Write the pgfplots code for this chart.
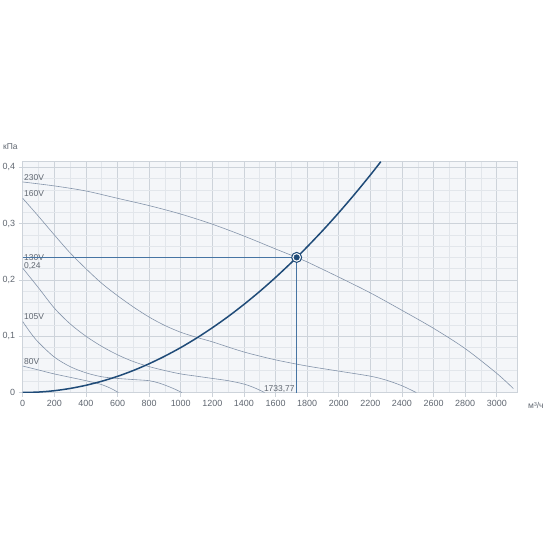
\documentclass[border=0pt]{standalone}
\usepackage{fontspec}
\setmainfont{Liberation Sans}
\usepackage{pgfplots}
\pgfplotsset{compat=1.18}
\definecolor{bgcol}{HTML}{F4F6F9}
\definecolor{gridmin}{HTML}{E2E6EB}
\definecolor{gridmaj}{HTML}{CDD3DA}
\definecolor{curvecol}{HTML}{8494AA}
\definecolor{syscol}{HTML}{1F4B78}
\definecolor{refcol}{HTML}{4674A3}
\definecolor{txtcol}{HTML}{5F6670}
\begin{document}
\begin{tikzpicture}
\path[use as bounding box] (0bp,0bp) rectangle (550bp,-550bp);
\begin{axis}[
  at={(22.7bp,-392.5bp)}, anchor=south west,
  scale only axis, width=494.3bp, height=230.8bp,
  xmin=0, xmax=3128, ymin=0, ymax=0.41,
  xtick={0,200,...,3000}, ytick={0,0.1,0.2,0.3,0.4},
  minor x tick num=1, minor y tick num=4,
  grid=both,
  major grid style={draw=gridmaj, line width=0.6bp},
  minor grid style={draw=gridmin, line width=0.5bp},
  axis background/.style={fill=bgcol},
  axis line style={draw=gridmaj, line width=0.6bp},
  xtick pos=left, ytick pos=left,
  tick align=outside, major tick length=4bp, minor tick length=0pt,
  major tick style={draw=gridmaj, line width=0.6bp},
  ticklabel style={font=\fontsize{9}{10}\selectfont, text=txtcol},
  x tick label style={/pgf/number format/.cd, set thousands separator={}, assume math mode=true},
  y tick label style={/pgf/number format/.cd, use comma, fixed, assume math mode=true},
]
% fan curves
\addplot[curvecol, line width=0.6bp, smooth] coordinates {
(0,0.374) (200,0.367) (400,0.358) (600,0.345) (800,0.332) (1000,0.317) (1200,0.299)
(1400,0.278) (1600,0.255) (1733.77,0.240) (1800,0.232) (2000,0.205) (2200,0.177)
(2400,0.146) (2600,0.114) (2800,0.078) (3000,0.034) (3105,0.007)};
\addplot[curvecol, line width=0.6bp, smooth] coordinates {
(0,0.345) (100,0.313) (200,0.280) (300,0.248) (400,0.220) (500,0.194) (600,0.172)
(700,0.152) (800,0.134) (900,0.119) (1000,0.107) (1100,0.098) (1200,0.090)
(1400,0.072) (1600,0.058) (1800,0.047) (2000,0.038) (2200,0.029) (2300,0.022)
(2400,0.012) (2490,0.0)};
\addplot[curvecol, line width=0.6bp, smooth] coordinates {
(0,0.221) (100,0.186) (200,0.150) (300,0.122) (400,0.100) (500,0.082) (600,0.067)
(700,0.055) (800,0.046) (900,0.039) (1000,0.033) (1100,0.029) (1200,0.025)
(1300,0.021) (1400,0.015) (1470,0.008) (1530,0.0)};
\addplot[curvecol, line width=0.6bp, smooth] coordinates {
(0,0.126) (50,0.106) (100,0.089) (200,0.063) (300,0.046) (400,0.035) (500,0.028)
(600,0.025) (700,0.023) (800,0.021) (860,0.017) (920,0.011) (970,0.005) (1006,0.0)};
\addplot[curvecol, line width=0.6bp, smooth] coordinates {
(0,0.047) (100,0.040) (200,0.033) (300,0.027) (400,0.021) (500,0.014) (560,0.007) (605,0.0)};
% labels
\node[anchor=base west, inner sep=0, font=\fontsize{8.5}{9}\selectfont, text=txtcol] at (axis cs:8,0.377) {230V};
\node[anchor=base west, inner sep=0, font=\fontsize{8.5}{9}\selectfont, text=txtcol] at (axis cs:8,0.348) {160V};
\node[anchor=base west, inner sep=0, font=\fontsize{8.5}{9}\selectfont, text=txtcol] at (axis cs:8,0.2345) {130V};
\node[anchor=base west, inner sep=0, font=\fontsize{8.5}{9}\selectfont, text=txtcol] at (axis cs:8,0.220) {0,24};
\node[anchor=base west, inner sep=0, font=\fontsize{8.5}{9}\selectfont, text=txtcol] at (axis cs:8,0.129) {105V};
\node[anchor=base west, inner sep=0, font=\fontsize{8.5}{9}\selectfont, text=txtcol] at (axis cs:8,0.049) {80V};
\node[anchor=base east, inner sep=0, font=\fontsize{8.5}{9}\selectfont, text=txtcol] at (axis cs:1722,0.0025) {1733,77};
% reference lines
\addplot[refcol, line width=0.9bp] coordinates {(0,0.24) (1733.77,0.24)};
\addplot[refcol, line width=0.9bp] coordinates {(1733.77,0) (1733.77,0.24)};
% system curve
\addplot[syscol, line width=1.5bp, smooth] coordinates {
(0,0) (100,0.0008) (200,0.0032) (300,0.0072) (400,0.0128) (500,0.0200) (600,0.0287)
(700,0.0391) (800,0.0511) (900,0.0647) (1000,0.0798) (1100,0.0966) (1200,0.1150)
(1300,0.1349) (1400,0.1565) (1500,0.1796) (1600,0.2044) (1700,0.2307) (1733.77,0.24)
(1800,0.2587) (1900,0.2882) (2000,0.3194) (2100,0.3521) (2200,0.3864) (2266,0.41)};
% operating point
\addplot[only marks, mark=*, mark size=5bp, mark options={fill=white, draw=syscol, line width=1bp}] coordinates {(1733.77,0.24)};
\addplot[only marks, mark=*, mark size=2.8bp, mark options={fill=syscol, draw=syscol}] coordinates {(1733.77,0.24)};
\end{axis}
\node[anchor=west, inner sep=0, font=\fontsize{8.5}{9}\selectfont, text=txtcol] at (3bp,-147bp) {кПа};
\node[anchor=west, inner sep=0, font=\fontsize{8.5}{9}\selectfont, text=txtcol] at (528bp,-405bp) {м³/ч};
\end{tikzpicture}
\end{document}
